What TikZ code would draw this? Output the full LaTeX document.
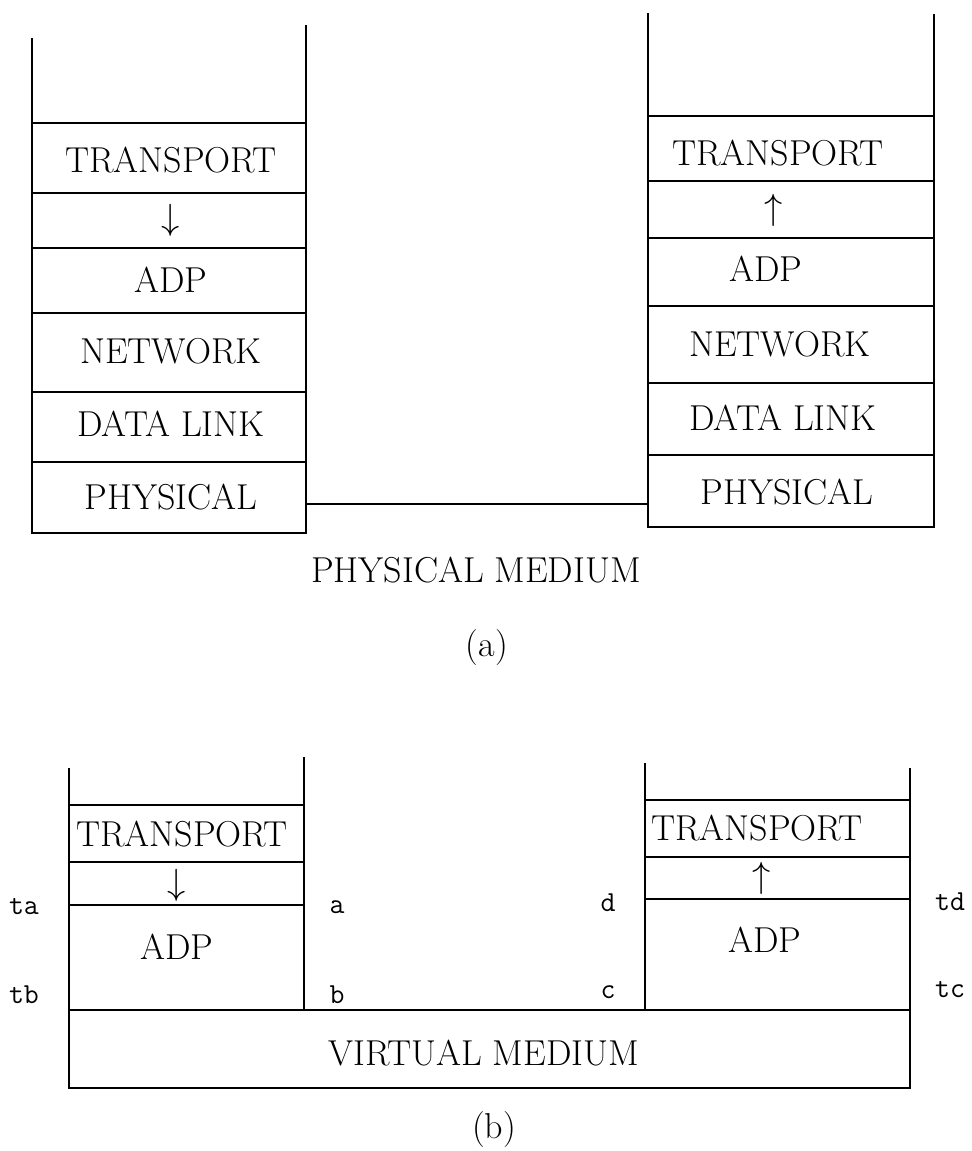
\documentclass[tikz,border=0pt]{standalone}
\usepackage{tikz}
\usepackage{amsmath}
\usetikzlibrary{positioning}
\tikzstyle{layer}=[font=\fontsize{20.5}{24}\selectfont, inner sep=0pt]
\tikzstyle{tag}=[font=\ttfamily\fontsize{16.5}{19}\selectfont, inner sep=0pt]
\tikzstyle{stackline}=[line width=1.3pt]
\tikzstyle{mainedge}=[line width=1.3pt]

\begin{document}
\begin{tikzpicture}
\useasboundingbox (0,0) rectangle (19.44,23.02);
% 1st column
\draw[stackline] (0.64,22.26) -- (0.64,12.36) -- (6.12,12.36) -- (6.12,22.52);
\draw[stackline] (0.64,20.56) -- (6.12,20.56);
\draw[stackline] (0.64,19.16) -- (6.12,19.16);
\draw[stackline] (0.64,18.06) -- (6.12,18.06);
\draw[stackline] (0.64,16.76) -- (6.12,16.76);
\draw[stackline] (0.64,15.18) -- (6.12,15.18);
\draw[stackline] (0.64,13.78) -- (6.12,13.78);
\node[layer] (n0_0) at (3.42,19.82) {TRANSPORT};
\node[layer] (n0_1) at (3.42,18.62) {$\downarrow$};
\node[layer] (n0_2) at (3.42,17.42) {ADP};
\node[layer] (n0_3) at (3.42,16.00) {NETWORK};
\node[layer] (n0_4) at (3.42,14.54) {DATA LINK};
\node[layer] (n0_5) at (3.42,13.08) {PHYSICAL};

% 2nd column
\draw[stackline] (12.96,22.76) -- (12.96,12.48) -- (18.68,12.48) -- (18.68,22.74);
\draw[stackline] (12.96,20.70) -- (18.68,20.70);
\draw[stackline] (12.96,19.40) -- (18.68,19.40);
\draw[stackline] (12.96,18.26) -- (18.68,18.26);
\draw[stackline] (12.96,16.90) -- (18.68,16.90);
\draw[stackline] (12.96,15.36) -- (18.68,15.36);
\draw[stackline] (12.96,13.92) -- (18.68,13.92);
\node[layer] (n1_0) at (15.56,19.96) {TRANSPORT};
\node[layer] (n1_1) at (15.48,18.82) {$\uparrow$};
\node[layer] (n1_2) at (15.32,17.64) {ADP};
\node[layer] (n1_3) at (15.60,16.14) {NETWORK};
\node[layer] (n1_4) at (15.66,14.66) {DATA LINK};
\node[layer] (n1_5) at (15.74,13.18) {PHYSICAL};

% physical medium
\coordinate (m0) at (6.12,12.94);
\coordinate (m1) at (12.96,12.94);
\draw[mainedge] (m0) -- (m1);
\node[layer] (pm) at (9.52,11.62) {PHYSICAL MEDIUM};
\node[layer] (capa) at (9.74,10.06) {(a)};

% 3rd column
\draw[stackline] (1.38,7.66) -- (1.38,1.26) -- (18.20,1.26) -- (18.20,7.66);
\draw[stackline] (1.38,2.82) -- (18.20,2.82);
\draw[stackline] (6.08,7.88) -- (6.08,2.82);
\draw[stackline] (1.38,6.92) -- (6.08,6.92);
\draw[stackline] (1.38,5.78) -- (6.08,5.78);
\draw[stackline] (1.38,4.92) -- (6.08,4.92);
\node[layer] (n2_0) at (3.64,6.34) {TRANSPORT};
\node[layer] (n2_1) at (3.54,5.32) {$\downarrow$};
\node[layer] (n2_2) at (3.54,4.08) {ADP};

% 4th column
\draw[stackline] (12.90,7.76) -- (12.90,2.82);
\draw[stackline] (12.90,7.02) -- (18.20,7.02);
\draw[stackline] (12.90,5.88) -- (18.20,5.88);
\draw[stackline] (12.90,5.04) -- (18.20,5.04);
\node[layer] (n3_0) at (15.14,6.46) {TRANSPORT};
\node[layer] (n3_1) at (15.24,5.46) {$\uparrow$};
\node[layer] (n3_2) at (15.30,4.22) {ADP};

% virtual medium
\node[layer] (vm) at (9.68,1.96) {VIRTUAL MEDIUM};
\node[layer] (capb) at (9.88,0.42) {(b)};

% tags
\node[tag] (ta) at (0.48,4.88) {ta};
\node[tag] (tb) at (0.48,3.12) {tb};
\node[tag] (a) at (6.74,4.88) {a};
\node[tag] (b) at (6.74,3.12) {b};
\node[tag] (d) at (12.16,4.96) {d};
\node[tag] (c) at (12.16,3.18) {c};
\node[tag] (td) at (19.00,4.98) {td};
\node[tag] (tc) at (19.00,3.22) {tc};

\end{tikzpicture}
\end{document}
